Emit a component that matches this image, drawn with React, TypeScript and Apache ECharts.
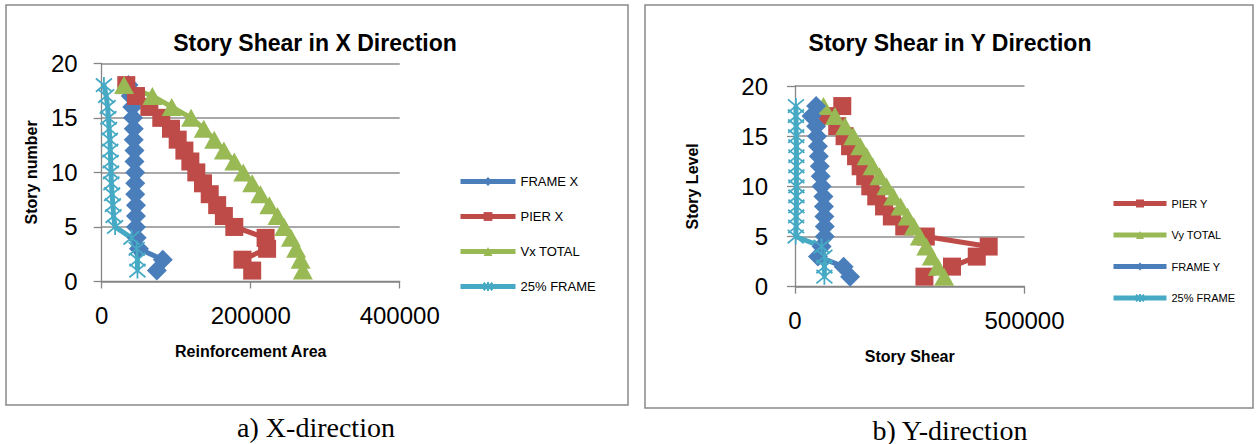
import React, { useEffect, useRef } from "react";
import * as echarts from "echarts";

// ---------- data ----------
const storyLevels = [1, 2, 3, 4, 5, 6, 7, 8, 9, 10, 11, 12, 13, 14, 15, 16, 17, 18];

// X direction (left chart), values per story level 1..18
const frameX = [74000, 82000, 50000, 47000, 46000, 46000, 46000, 45000, 45000, 45000, 44000, 44000, 43000, 43000, 42000, 41000, 39000, 36000];
const pierX = [202000, 189000, 222000, 220000, 178000, 164000, 155000, 145000, 136000, 127000, 119000, 111000, 102000, 93000, 80000, 64000, 46000, 33000];
const vxTotal = [270000, 267000, 261000, 254000, 245000, 236000, 225000, 213000, 202000, 190000, 178000, 164000, 151000, 137000, 120000, 94000, 68000, 30000];
const frame25X = [48000, 48000, 47000, 40000, 18000, 16000, 15000, 14000, 13000, 12500, 12000, 11500, 11000, 10000, 9000, 8000, 6000, 3000];

// Y direction (right chart), values per story level 1..18
const pierY = [282000, 342000, 396000, 422000, 285000, 238000, 211000, 194000, 177000, 164000, 153000, 143000, 133000, 120000, 108000, 92000, 72000, 103000];
const vyTotal = [325000, 311000, 298000, 286000, 272000, 259000, 245000, 230000, 214000, 199000, 184000, 169000, 156000, 142000, 127000, 109000, 87000, 62000];
const frameY = [120000, 106000, 50000, 58000, 65000, 65000, 64000, 63000, 62000, 58000, 56000, 54000, 52000, 50000, 48000, 46000, 36000, 46000];
const frame25Y = [64000, 64000, 64000, 58000, 1500, 2500, 2500, 3000, 3000, 3000, 3000, 3000, 3000, 3000, 2500, 2500, 2000, 2000];

const legendX = ["FRAME X", "PIER X", "Vx TOTAL", "25% FRAME"];
const legendY = ["PIER Y", "Vy TOTAL", "FRAME Y", "25% FRAME"];

// ---------- styles ----------
const FONT = "'Liberation Sans', Arial, sans-serif";
const SERIF = "'Liberation Serif', 'Times New Roman', serif";
const BLUE = "#4A7EBB";
const RED = "#BE4B48";
const GREEN = "#98B954";
const CYAN = "#46AAC5";
const GRID_GRAY = "#8C8C8C";
const STAR = "path://M0,1L10,11M10,1L0,11M5,0L5,12";

function pairs(values: number[]) {
  return storyLevels.map((s, i) => [values[i], s]);
}

function makeSeries(
  name: string,
  values: number[],
  color: string,
  symbol: string,
  symbolSize: number | number[],
  axis: number
) {
  const isStar = symbol === STAR;
  return {
    name,
    type: "line",
    xAxisIndex: axis,
    yAxisIndex: axis,
    data: pairs(values),
    symbol,
    symbolSize,
    clip: false,
    lineStyle: { color, width: 5 },
    itemStyle: isStar
      ? { color, borderColor: color, borderWidth: 1.8 }
      : { color, borderWidth: 0 },
    emphasis: { disabled: true },
  };
}

const axisLineStyle = { color: "#868686", width: 1.3 };

function xAxisDef(gridIndex: number, max: number, interval: number, name: string) {
  return {
    gridIndex,
    type: "value",
    min: 0,
    max,
    interval,
    axisLine: { show: true, onZero: false, lineStyle: axisLineStyle },
    axisTick: { show: true, length: 7, lineStyle: axisLineStyle },
    splitLine: { show: false },
    axisLabel: {
      fontSize: 24,
      color: "#000",
      fontFamily: FONT,
      margin: 22,
      showMinLabel: true,
      showMaxLabel: true,
      formatter: (v: number) => String(v),
    },
    name,
    nameLocation: "middle",
    nameGap: 62,
    nameTextStyle: { fontSize: 16, fontWeight: "bold", color: "#000", fontFamily: FONT },
  };
}

function yAxisDef(gridIndex: number, name: string, nameGap: number, labelMargin: number) {
  return {
    gridIndex,
    type: "value",
    min: 0,
    max: 20,
    interval: 5,
    axisLine: { show: true, onZero: false, lineStyle: axisLineStyle },
    axisTick: { show: true, length: 8, lineStyle: axisLineStyle },
    splitLine: { show: true, lineStyle: { color: GRID_GRAY, width: 1.5 } },
    axisLabel: {
      fontSize: 24,
      color: "#000",
      fontFamily: FONT,
      margin: labelMargin,
      showMinLabel: true,
      showMaxLabel: true,
      formatter: (v: number) => String(v),
    },
    name,
    nameLocation: "middle",
    nameGap,
    nameTextStyle: { fontSize: 16, fontWeight: "bold", color: "#000", fontFamily: FONT },
  };
}

function textEl(text: string, x: number, y: number, size: number, family: string, weight: string) {
  return {
    type: "text",
    x,
    y,
    silent: true,
    style: {
      text,
      fontSize: size,
      fontFamily: family,
      fontWeight: weight,
      fill: "#000",
      align: "center",
      verticalAlign: "middle",
      textAlign: "center",
      textVerticalAlign: "middle",
    },
  };
}

export default function App() {
  const ref = useRef<HTMLDivElement>(null);

  useEffect(() => {
    if (!ref.current) return;
    const chart = echarts.init(ref.current, null, { renderer: "svg" });

    const option = {
      animation: false,
      backgroundColor: "#ffffff",
      grid: [
        { left: 101.7, top: 63.3, width: 298, height: 218.2 },
        { left: 795, top: 86, width: 229.5, height: 200.7 },
      ],
      xAxis: [
        xAxisDef(0, 400000, 200000, "Reinforcement Area"),
        xAxisDef(1, 500000, 500000, "Story Shear"),
      ],
      yAxis: [yAxisDef(0, "Story number", 62, 24), yAxisDef(1, "Story Level", 95, 27)],
      legend: [
        {
          orient: "vertical",
          left: 453,
          top: 170,
          itemWidth: 55,
          itemHeight: 11,
          itemGap: 22,
          selectedMode: false,
          lineStyle: { width: 5 },
          textStyle: { fontSize: 13, color: "#000", fontFamily: FONT },
          data: legendX,
        },
        {
          orient: "vertical",
          left: 1106,
          top: 193,
          itemWidth: 53,
          itemHeight: 10,
          itemGap: 20.5,
          selectedMode: false,
          lineStyle: { width: 5 },
          textStyle: { fontSize: 11, color: "#000", fontFamily: FONT },
          data: legendY,
        },
      ],
      graphic: [
        {
          type: "rect",
          silent: true,
          shape: { x: 6, y: 5, width: 622, height: 400 },
          style: { fill: "none", stroke: "#898989", lineWidth: 1.5 },
        },
        {
          type: "rect",
          silent: true,
          shape: { x: 645, y: 5, width: 608, height: 403 },
          style: { fill: "none", stroke: "#898989", lineWidth: 1.5 },
        },
        textEl("Story Shear in X Direction", 315, 43, 23, FONT, "bold"),
        textEl("Story Shear in Y Direction", 950, 43, 23, FONT, "bold"),
        textEl("a) X-direction", 316, 427, 28, SERIF, "normal"),
        textEl("b) Y-direction", 950, 430, 28, SERIF, "normal"),
      ],
      series: [
        makeSeries("FRAME X", frameX, BLUE, "diamond", 20, 0),
        makeSeries("PIER X", pierX, RED, "rect", 18, 0),
        makeSeries("Vx TOTAL", vxTotal, GREEN, "triangle", [20, 18], 0),
        makeSeries("25% FRAME", frame25X, CYAN, STAR, 16, 0),
        makeSeries("PIER Y", pierY, RED, "rect", 18, 1),
        makeSeries("Vy TOTAL", vyTotal, GREEN, "triangle", [20, 18], 1),
        makeSeries("FRAME Y", frameY, BLUE, "diamond", 20, 1),
        makeSeries("25% FRAME", frame25Y, CYAN, STAR, 16, 1),
      ],
    };

    chart.setOption(option as any);
    return () => chart.dispose();
  }, []);

  return (
    <div
      ref={ref}
      style={{ position: "absolute", left: 0, top: 0, width: 1257, height: 444, background: "#fff" }}
    />
  );
}
